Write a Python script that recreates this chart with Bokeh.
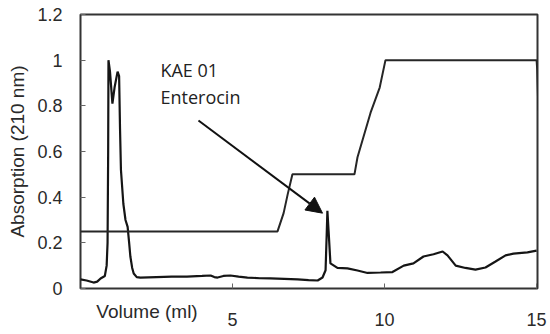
from bokeh.plotting import figure
from bokeh.models import FixedTicker, Label, Arrow, NormalHead, Range1d
from bokeh.embed import file_html
from bokeh.resources import INLINE

# Chromatogram (absorption at 210 nm)
volume = [0.00, 0.20, 0.43, 0.55, 0.66, 0.80, 0.86, 0.89, 0.91, 0.92, 0.97, 1.05,
          1.12, 1.22, 1.27, 1.30, 1.33, 1.41, 1.48, 1.55, 1.60, 1.64, 1.70, 1.75,
          1.85, 1.97, 2.50, 3.00, 3.50, 4.00, 4.28, 4.40, 4.51, 4.70, 4.93, 5.20,
          5.49, 5.90, 6.25, 6.70, 7.14, 7.50, 7.80, 7.96, 8.06, 8.10, 8.12, 8.16,
          8.22, 8.45, 8.78, 9.11, 9.44, 9.87, 10.26, 10.63, 10.95, 11.28, 11.61,
          11.91, 12.07, 12.34, 12.66, 12.99, 13.32, 13.65, 13.98, 14.24, 14.70, 15.00]
absorption = [0.040, 0.035, 0.026, 0.030, 0.044, 0.055, 0.10, 0.20, 0.60, 1.00, 0.95, 0.81,
              0.88, 0.95, 0.93, 0.70, 0.52, 0.37, 0.30, 0.27, 0.20, 0.14, 0.09, 0.066,
              0.050, 0.048, 0.050, 0.052, 0.052, 0.055, 0.057, 0.050, 0.048, 0.055, 0.057, 0.052,
              0.048, 0.045, 0.044, 0.042, 0.040, 0.037, 0.035, 0.048, 0.080, 0.25, 0.34, 0.25,
              0.11, 0.090, 0.088, 0.079, 0.068, 0.070, 0.072, 0.10, 0.11, 0.14, 0.15,
              0.162, 0.145, 0.10, 0.090, 0.083, 0.092, 0.118, 0.145, 0.153, 0.158, 0.166]

# Elution gradient (step profile)
grad_volume = [0.00, 6.48, 6.68, 6.81, 6.97, 9.01, 9.11, 9.54, 9.84, 10.03, 15.00, 15.02, 15.06]
grad_level = [0.25, 0.25, 0.33, 0.41, 0.50, 0.50, 0.575, 0.77, 0.88, 1.00, 1.00, 0.96, 0.78]

x_ticks = [5, 10, 15]
x_tick_labels = ["5", "10", "15"]
y_ticks = [0, 0.2, 0.4, 0.6, 0.8, 1.0, 1.2]
y_tick_labels = ["0", "0.2", "0.4", "0.6", "0.8", "1", "1.2"]

AX_FONT = "Liberation Sans"
TXT = "#2a2a2a"

p = figure(width=550, height=334, output_backend="svg", toolbar_location=None,
           x_range=Range1d(0, 15.03), y_range=Range1d(0, 1.2),
           min_border_left=80, min_border_right=13, min_border_top=14, min_border_bottom=46)
p.background_fill_color = "white"
p.border_fill_color = "white"
p.outline_line_color = "#333333"
p.outline_line_width = 2
p.grid.visible = False

p.line(volume, absorption, line_color="#151515", line_width=2.2)
p.line(grad_volume, grad_level, line_color="#262626", line_width=2)

# axes
for ax in (p.xaxis[0], p.yaxis[0]):
    ax.axis_line_color = None
    ax.major_tick_in = 5
    ax.major_tick_out = 0
    ax.major_tick_line_color = "#666666"
    ax.minor_tick_line_color = None
    ax.major_label_text_font = AX_FONT
    ax.major_label_text_font_size = "18px"
    ax.major_label_text_color = TXT
    ax.axis_label_text_font = AX_FONT
    ax.axis_label_text_font_size = "19px"
    ax.axis_label_text_font_style = "normal"
    ax.axis_label_text_color = TXT

xa = p.xaxis[0]
xa.ticker = FixedTicker(ticks=x_ticks)
xa.major_label_overrides = dict(zip(x_ticks, x_tick_labels))
xa.major_label_standoff = 24
xa.axis_label_align = "start"
xa.axis_label = "\u2003" * 7 + "Volume (ml)"
xa.axis_label_standoff = -28

ya = p.yaxis[0]
ya.ticker = FixedTicker(ticks=y_ticks)
ya.major_label_overrides = dict(zip(y_ticks, y_tick_labels))
ya.major_label_standoff = 18
ya.axis_label = "Absorption (210 nm)"
ya.axis_label_standoff = 6

# annotation
p.add_layout(Label(x=2.63, y=0.955, text="KAE 01", text_baseline="middle",
                   text_font="Open Sans", text_font_size="18px", text_color="#222222"))
p.add_layout(Label(x=2.63, y=0.84, text="Enterocin", text_baseline="middle",
                   text_font="Open Sans", text_font_size="18px", text_color="#222222"))
p.add_layout(Arrow(x_start=3.88, y_start=0.736, x_end=7.96, y_end=0.33,
                   line_color="#111111", line_width=2,
                   end=NormalHead(size=16, fill_color="#111111", line_color="#111111")))

open("out.html", "w").write(file_html(p, INLINE))
